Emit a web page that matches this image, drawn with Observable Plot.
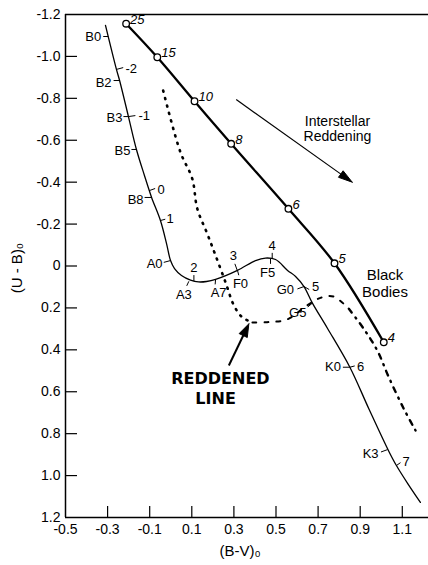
<!DOCTYPE html>
<html><head><meta charset="utf-8">
<script src="https://cdn.jsdelivr.net/npm/d3@7"></script>
<script src="https://cdn.jsdelivr.net/npm/@observablehq/plot@0.6"></script>
<style>body{margin:0;background:#fff}svg{display:block}</style>
</head><body><div id="chart"></div>
<script>
// ---------- data ----------
// Main sequence (B-V)0, (U-B)0
const msBV = [-0.310,-0.258,-0.243,-0.201,-0.163,-0.125,-0.091,-0.049,-0.020,-0.001,0.018,0.051,0.094,0.132,0.170,0.213,0.317,0.403,0.450,0.498,0.555,0.593,0.633,0.673,0.745,0.851,0.941,1.034,1.072,1.129,1.186];
const msUB = [-1.148,-0.938,-0.885,-0.713,-0.556,-0.432,-0.327,-0.217,-0.107,-0.026,0.012,0.045,0.067,0.076,0.074,0.064,0.021,-0.026,-0.038,-0.031,0.021,0.050,0.098,0.177,0.298,0.483,0.681,0.880,0.952,1.043,1.128];
// Black bodies
const bbBV = [-0.212,-0.064,0.113,0.287,0.559,0.778,1.012];
const bbUB = [-1.156,-0.996,-0.786,-0.583,-0.273,-0.013,0.364];
const bbTemp = ["25","15","10","8","6","5","4"];
// Reddened line
const redBV = [-0.036,0.046,0.102,0.126,0.173,0.213,0.260,0.300,0.339,0.388,0.458,0.553,0.648,0.711,0.773,0.846,0.917,0.981,1.036,1.107,1.163];
const redUB = [-0.837,-0.543,-0.417,-0.274,-0.155,-0.050,0.077,0.188,0.244,0.270,0.268,0.255,0.188,0.152,0.146,0.204,0.300,0.403,0.531,0.681,0.785];
// Spectral types on main sequence
const specTypes = ["B0","B2","B3","B5","B8","A0","A3","A7","F0","F5","G0","G5","K0","K3"];
const specBV = [-0.297,-0.243,-0.201,-0.163,-0.091,-0.001,0.086,0.213,0.317,0.474,0.633,0.673,0.851,1.030];
const specUB = [-1.095,-0.885,-0.713,-0.556,-0.327,-0.026,0.073,0.064,0.021,-0.034,0.098,0.177,0.483,0.876];
// Absolute magnitude marks on main sequence
const magLabels = ["-2","-1","0","1","2","3","4","5","6","7"];
const magBV = [-0.258,-0.201,-0.101,-0.049,0.110,0.316,0.482,0.633,0.851,1.072];
const magUB = [-0.938,-0.713,-0.360,-0.217,0.072,0.021,-0.034,0.098,0.483,0.952];
// Axis ticks
const xTicks = [-0.5,-0.3,-0.1,0.1,0.3,0.5,0.7,0.9,1.1];
const yTicks = [-1.2,-1.0,-0.8,-0.6,-0.4,-0.2,0,0.2,0.4,0.6,0.8,1.0,1.2];
// Annotation arrows [x1,y1,x2,y2]
const reddeningArrow = [0.311,-0.794,0.862,-0.400];
const lineArrow = [0.276,0.475,0.371,0.276];

// ---------- layout ----------
const W = 428, H = 565, ML = 65, MR = 0, MT = 14, MB = 48;
const X0 = -0.5, X1 = 1.2245, Y0 = -1.2, Y1 = 1.2;
const kx = (W - ML - MR) / (X1 - X0), ky = (H - MT - MB) / (Y1 - Y0);
const FONT = "Liberation Sans, Arial, Helvetica, sans-serif";

const specLayout = {
  B0:{a:180,l:5,dx:-7,dy:0,anchor:"end"}, B2:{a:180,l:6,dx:-8,dy:2,anchor:"end"},
  B3:{a:180,l:5,dx:-6,dy:1,anchor:"end"}, B5:{a:180,l:5,dx:-6,dy:1,anchor:"end"},
  B8:{a:180,l:7,dx:-8,dy:2,anchor:"end"}, A0:{a:165,l:7,dx:-8,dy:3,anchor:"end"},
  A3:{a:115,l:5,dx:-5,dy:14,anchor:"middle"}, A7:{a:95,l:5,dx:3,dy:13,anchor:"middle"},
  F0:{a:75,l:5,dx:3,dy:13,anchor:"middle"}, F5:{a:90,l:5,dx:-3,dy:14,anchor:"middle"},
  G0:{a:160,l:7,dx:-10,dy:3,anchor:"end"}, G5:{a:140,l:6,dx:-6,dy:10,anchor:"end"},
  K0:{a:180,l:7,dx:-9,dy:0,anchor:"end"}, K3:{a:160,l:7,dx:-9,dy:4,anchor:"end"}
};
const magLayout = {
  "-2":{a:-15,l:7,dx:9,dy:-1,anchor:"start"}, "-1":{a:-8,l:7,dx:10,dy:-1,anchor:"start"},
  "0":{a:-20,l:6,dx:8,dy:-1,anchor:"start"}, "1":{a:-15,l:5,dx:6,dy:-2,anchor:"start"},
  "2":{a:-90,l:6,dx:0,dy:-13,anchor:"middle"}, "3":{a:-110,l:7,dx:-4,dy:-15,anchor:"middle"},
  "4":{a:-90,l:6,dx:0,dy:-13,anchor:"middle"}, "5":{a:30,l:6,dx:8,dy:0,anchor:"start"},
  "6":{a:-15,l:5,dx:7,dy:0,anchor:"start"}, "7":{a:-35,l:5,dx:6,dy:-4,anchor:"start"}
};

function labelRows(names, bvs, ubs, layout) {
  return names.map((t, i) => {
    const L = layout[t], r = L.a * Math.PI / 180;
    return {t, x: bvs[i], y: ubs[i],
      x2: bvs[i] + L.l * Math.cos(r) / kx, y2: ubs[i] + L.l * Math.sin(r) / ky,
      dx: L.dx, dy: L.dy, anchor: L.anchor};
  });
}
function headPts([x1, y1, x2, y2], len, wid) {
  const px = (x2 - x1) * kx, py = (y2 - y1) * ky, n = Math.hypot(px, py);
  const ux = px / n, uy = py / n;
  const bx = -ux * len, by = -uy * len;
  return [
    {x: x2, y: y2},
    {x: x2 + (bx - uy * wid / 2) / kx, y: y2 + (by + ux * wid / 2) / ky},
    {x: x2 + (bx + uy * wid / 2) / kx, y: y2 + (by - ux * wid / 2) / ky},
    {x: x2, y: y2}
  ];
}
function shaft([x1, y1, x2, y2], len) {
  const px = (x2 - x1) * kx, py = (y2 - y1) * ky, n = Math.hypot(px, py);
  return [{x1, y1, x2: x2 - (px / n) * len * 0.8 / kx, y2: y2 - (py / n) * len * 0.8 / ky}];
}

const ms = msBV.map((x, i) => ({x, y: msUB[i]}));
const bb = bbBV.map((x, i) => ({x, y: bbUB[i], t: bbTemp[i]}));
const red = redBV.map((x, i) => ({x, y: redUB[i]}));
const spec = labelRows(specTypes, specBV, specUB, specLayout);
const mags = labelRows(magLabels, magBV, magUB, magLayout);
const fmt = d => d === 0 ? "0" : d.toFixed(1);

const labelMarks = [...spec, ...mags].flatMap(d => [
  Plot.link([d], {x1: "x", y1: "y", x2: "x2", y2: "y2", stroke: "black", strokeWidth: 1}),
  Plot.text([d], {x: "x", y: "y", text: "t", dx: d.dx, dy: d.dy, textAnchor: d.anchor, fontSize: 13, fill: "black"})
]);

const chart = Plot.plot({
  width: W, height: H,
  marginLeft: ML, marginRight: MR, marginTop: MT, marginBottom: MB,
  x: {domain: [X0, X1], axis: null},
  y: {domain: [Y0, Y1], reverse: true, axis: null},
  style: {fontFamily: FONT, background: "white", color: "black", overflow: "visible"},
  marks: [
    // frame
    Plot.ruleX([X0], {stroke: "black", strokeWidth: 1.5}),
    Plot.ruleY([Y0, Y1], {stroke: "black", strokeWidth: 1.5}),
    // inward ticks
    Plot.ruleY(yTicks.slice(1, -1), {y: d => d, x1: X0, x2: X0 + 12 / kx, stroke: "black", strokeWidth: 1.2}),
    Plot.ruleX(xTicks.slice(1), {x: d => d, y1: Y1, y2: Y1 - 11 / ky, stroke: "black", strokeWidth: 1.2}),
    // tick labels
    Plot.text(yTicks, {x: X0, y: d => d, text: fmt, dx: -5, textAnchor: "end", fontSize: 14}),
    Plot.text(xTicks, {x: d => d, y: Y1, text: fmt, dy: 12, fontSize: 14}),
    // axis titles
    Plot.text(["(U - B)₀"], {x: X0, y: 0.01, text: d => d, dx: -48, rotate: -90, fontSize: 15}),
    Plot.text(["(B-V)₀"], {x: 0.33, y: Y1, text: d => d, dy: 34, fontSize: 15}),
    // main sequence
    Plot.line(ms, {x: "x", y: "y", curve: "catmull-rom", stroke: "black", strokeWidth: 1.3}),
    // reddened line
    Plot.line(red.slice(0, 10), {x: "x", y: "y", curve: "catmull-rom", stroke: "black", strokeWidth: 2.6, strokeDasharray: "1.2 6.5", strokeLinecap: "round"}),
    Plot.line(red.slice(9, 16), {x: "x", y: "y", curve: "catmull-rom", stroke: "black", strokeWidth: 2, strokeDasharray: "4 8"}),
    Plot.line(red.slice(15), {x: "x", y: "y", curve: "catmull-rom", stroke: "black", strokeWidth: 2.4, strokeDasharray: "5 6 1.2 6", strokeLinecap: "round"}),
    // black bodies
    Plot.line(bb, {x: "x", y: "y", curve: "catmull-rom", stroke: "black", strokeWidth: 2.3}),
    Plot.dot(bb, {x: "x", y: "y", r: 3.3, fill: "white", stroke: "black", strokeWidth: 1.3}),
    Plot.text(bb, {x: "x", y: "y", text: "t", dx: 4, dy: -4, textAnchor: "start", fontStyle: "italic", fontSize: 13}),
    // spectral / magnitude labels
    ...labelMarks,
    // interstellar reddening arrow
    Plot.link(shaft(reddeningArrow, 13), {x1: "x1", y1: "y1", x2: "x2", y2: "y2", stroke: "black", strokeWidth: 1.2}),
    Plot.line(headPts(reddeningArrow, 14, 8), {x: "x", y: "y", fill: "black", stroke: "black", strokeWidth: 1}),
    Plot.text(["Interstellar\nReddening"], {x: 0.792, y: -0.656, text: d => d, fontSize: 14, lineHeight: 1.05}),
    Plot.text(["Black\nBodies"], {x: 1.018, y: 0.081, text: d => d, fontSize: 15, lineHeight: 1.1}),
    // reddened line annotation
    Plot.link(shaft(lineArrow, 12), {x1: "x1", y1: "y1", x2: "x2", y2: "y2", stroke: "black", strokeWidth: 2}),
    Plot.line(headPts(lineArrow, 13, 9), {x: "x", y: "y", fill: "black", stroke: "black", strokeWidth: 1}),
    Plot.text(["REDDENED"], {x: 0.236, y: 0.537, text: d => d, fontSize: 16, fontFamily: "DejaVu Sans", fontWeight: "bold"}),
    Plot.text(["LINE"], {x: 0.213, y: 0.632, text: d => d, fontSize: 16, fontFamily: "DejaVu Sans", fontWeight: "bold"})
  ]
});
document.getElementById("chart").append(chart);
</script>
</body></html>
